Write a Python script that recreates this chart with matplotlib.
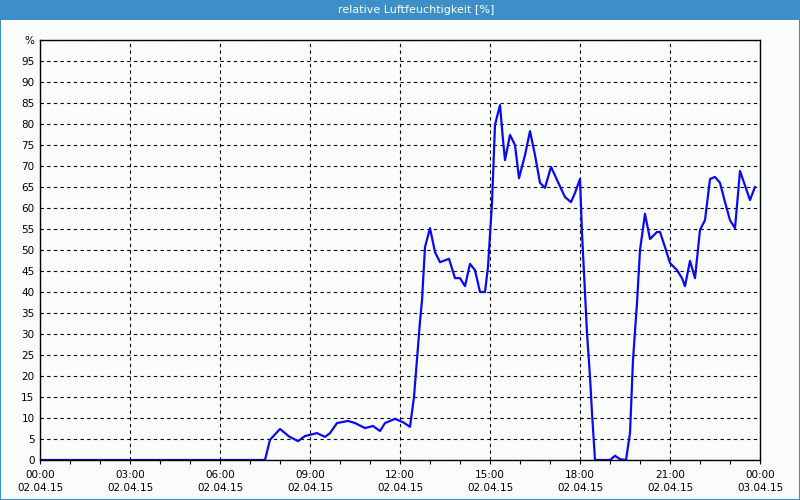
import numpy as np
import matplotlib
matplotlib.use("Agg")
import matplotlib.pyplot as plt
import matplotlib.dates as mdates
import pandas as pd

# Messwerte vom 02.04.15
zeiten = ["00:00", "07:30", "07:40", "08:00", "08:18", "08:36", "08:50", "09:14", "09:30", "09:40",
          "09:54", "10:16", "10:30", "10:50", "11:06", "11:20", "11:30", "11:50", "12:06", "12:20",
          "12:28", "12:40", "12:44", "12:50", "13:00", "13:10", "13:20", "13:38", "13:50", "14:00",
          "14:10", "14:20", "14:30", "14:40", "14:50", "14:56", "15:04", "15:10", "15:20", "15:26",
          "15:30", "15:40", "15:50", "15:58", "16:10", "16:20", "16:30", "16:40", "16:50", "17:02",
          "17:14", "17:30", "17:42", "17:50", "18:00", "18:04", "18:10", "18:14", "18:20", "18:24",
          "18:30", "19:00", "19:10", "19:20", "19:32", "19:40", "19:46", "19:54", "20:00", "20:10",
          "20:20", "20:34", "20:40", "20:50", "21:00", "21:14", "21:24", "21:30", "21:40", "21:50",
          "22:00", "22:10", "22:20", "22:30", "22:40", "22:50", "23:00", "23:10", "23:20", "23:40",
          "23:50"]
feuchte = [0, 0, 4.8, 7.4, 5.6, 4.5, 5.7, 6.4, 5.5, 6.4,
           8.8, 9.3, 8.8, 7.6, 8.1, 6.9, 8.8, 9.8, 9.0, 7.9,
           15, 33, 38, 50.7, 55.2, 49.5, 47.1, 47.9, 43.3, 43.3,
           41.4, 46.7, 45.2, 40, 40, 46, 61.2, 79.8, 84.5, 76.2,
           71.4, 77.4, 75, 67.1, 72.6, 78.3, 72.6, 66, 64.8, 69.8,
           66.7, 62.6, 61.4, 63.6, 66.9, 54, 39.8, 30.2, 19.8, 11.2,
           0, 0, 1, 0.2, 0, 6.4, 23.8, 37.4, 50, 58.6,
           52.6, 54.3, 54.3, 50.7, 46.9, 45.2, 43.3, 41.4, 47.4, 43.3,
           54.8, 57.1, 66.9, 67.4, 66, 61.4, 57.1, 55.2, 68.8, 61.9,
           65]

y_ticks = list(range(0, 100, 5))
y_labels = [str(v) for v in y_ticks]

t = pd.to_datetime(["2015-04-02 " + z for z in zeiten])
start = pd.Timestamp("2015-04-02 00:00")
ende = pd.Timestamp("2015-04-03 00:00")

plt.rcParams['font.family'] = ['DejaVu Sans']

fig = plt.figure(figsize=(8, 5), dpi=100)
fig.patch.set_facecolor('#fafcfa')

# Titelleiste und Rahmen
fig.patches.append(plt.Rectangle((0, 0.96), 1, 0.04, transform=fig.transFigure,
                                 facecolor='#3d8fc7', edgecolor='none', zorder=0))
fig.patches.append(plt.Rectangle((0.0006, 0.001), 0.9988, 0.998, transform=fig.transFigure,
                                 facecolor='none', edgecolor='#3d8fc7', lw=1.5, zorder=0))
fig.text(0.52, 0.98, "relative Luftfeuchtigkeit [%]", color='white', fontsize=8,
         ha='center', va='center')

ax = fig.add_axes([0.05, 0.08, 0.9, 0.84])
ax.set_facecolor('#fafcfa')
ax.plot(t, feuchte, color='#0a0af0', lw=1.6)

ax.set_xlim(start, ende)
ax.set_ylim(0, 100)

ax.xaxis.set_major_locator(mdates.HourLocator(byhour=range(0, 24, 3)))
ax.xaxis.set_minor_locator(mdates.HourLocator())
ax.xaxis.set_major_formatter(mdates.DateFormatter('%H:%M\n%d.%m.%y'))

ax.set_yticks(y_ticks + [100])
ax.set_yticklabels(y_labels + ['%'])

ax.tick_params(axis='x', which='both', direction='out', length=3, width=0.8,
               labelsize=7.5, pad=4, colors='black')
ax.tick_params(axis='y', length=0, labelsize=7.5, pad=4)
for lbl in ax.get_xticklabels():
    lbl.set_linespacing(1.45)

ax.grid(True, which='major', color='black', linestyle=(0, (3, 3)), lw=0.8)
for s in ax.spines.values():
    s.set_linewidth(1)
    s.set_color('black')

fig.savefig("out.png", dpi=100, facecolor=fig.get_facecolor())
